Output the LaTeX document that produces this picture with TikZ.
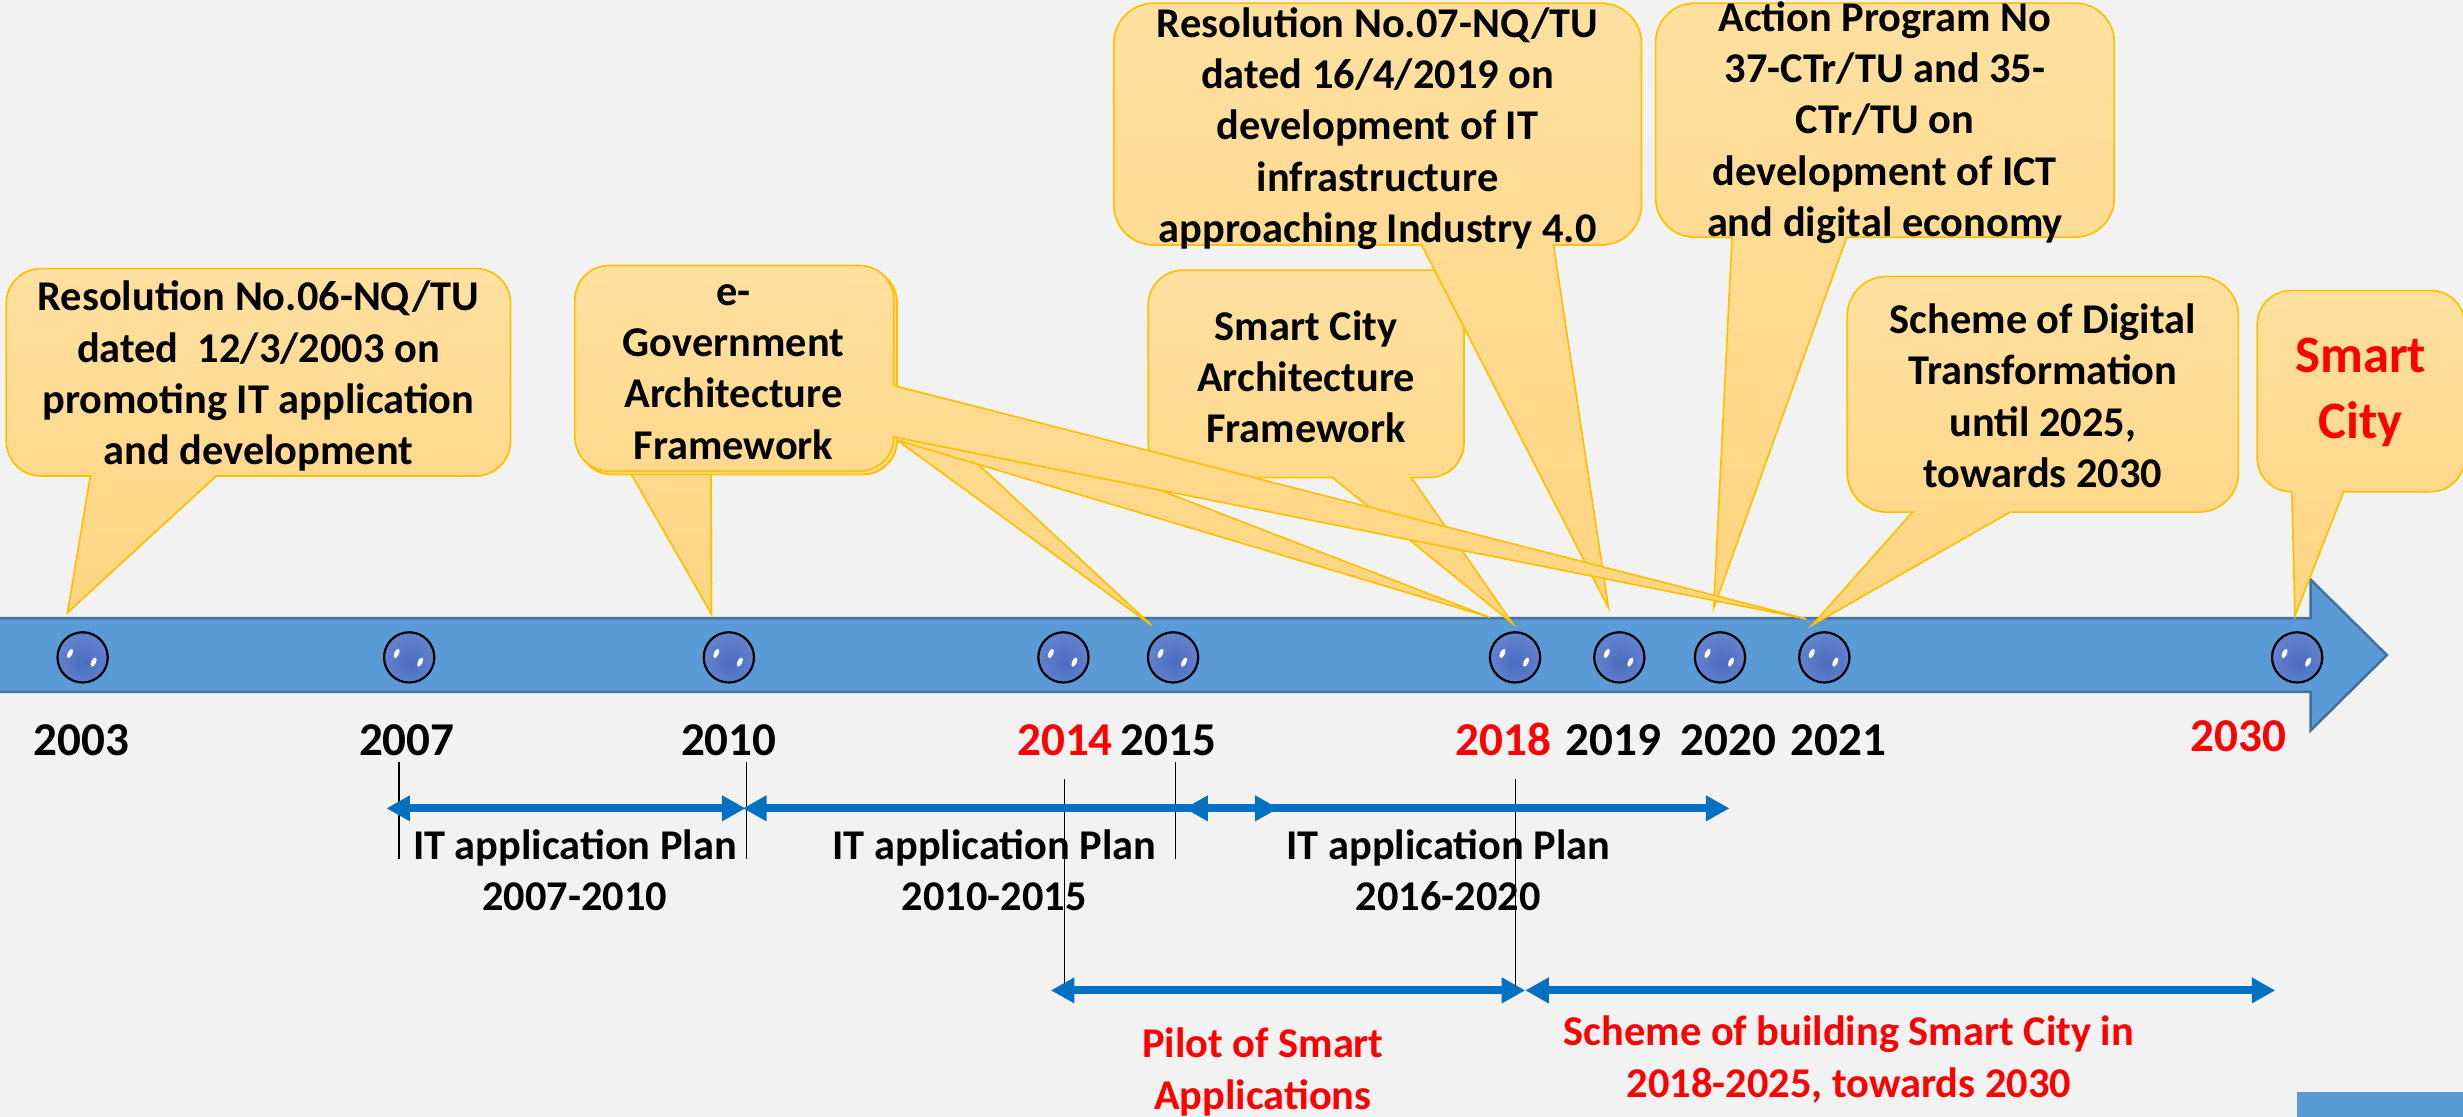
\documentclass[tikz,border=0pt]{standalone}
\usepackage{fontspec}
\setmainfont{Carlito}
\usetikzlibrary{arrows.meta}
\definecolor{bg}{HTML}{F2F2F2}
\definecolor{barblue}{HTML}{5B9BD5}
\definecolor{barline}{HTML}{41719C}
\definecolor{arrblue}{HTML}{0070C0}
\definecolor{cfilltop}{HTML}{FFE0A0}
\definecolor{cfillbot}{HTML}{FFD580}
\definecolor{cline}{HTML}{FFC000}
\definecolor{ballin}{HTML}{4A6BC0}
\definecolor{ballmid}{HTML}{6584CF}
\definecolor{ballout}{HTML}{D5DEF3}
\definecolor{myred}{HTML}{FF0000}
\pgfdeclareradialshading{ballshade}{\pgfpoint{2bp}{-6bp}}{color(0bp)=(ballin); color(28bp)=(ballmid); color(50bp)=(ballout)}
\tikzset{
  callout/.style={draw=cline, line width=0.6pt, top color=cfilltop, bottom color=cfillbot},
  ctext/.style={font=\fontsize{15.36pt}{18.6pt}\selectfont\bfseries, align=center, inner sep=0pt},
  bigtext/.style={font=\fontsize{19.06pt}{23.7pt}\selectfont\bfseries, align=center, inner sep=0pt, text=myred},
  yeartext/.style={font=\fontsize{17.07pt}{20pt}\selectfont\bfseries, inner sep=0pt},
  ball/.style={circle, draw=black, line width=0.8pt, shading=ballshade, minimum size=0.64cm, inner sep=0pt},
  tickline/.style={draw=black, line width=0.4pt},
  plan/.style={draw=arrblue, line width=2.85pt, arrows={Triangle[length=0.3cm,width=0.31cm]-Triangle[length=0.3cm,width=0.31cm]}},
}
\newcommand\calloutB[8]{%
  \pgfmathsetmacro\crad{min(#3-#1,#4-#2)/6}%
  \pgfmathsetmacro\bxa{#1+(#3-#1)*#5}%
  \pgfmathsetmacro\bxb{#1+(#3-#1)*#6}%
  \path[callout] ({#1+\crad},#2) -- ({#3-\crad},#2) arc[start angle=270,end angle=360,radius=\crad]
   -- (#3,{#4-\crad}) arc[start angle=0,end angle=90,radius=\crad]
   -- (\bxb,#4) -- (#7,#8) -- (\bxa,#4)
   -- ({#1+\crad},#4) arc[start angle=90,end angle=180,radius=\crad]
   -- (#1,{#2+\crad}) arc[start angle=180,end angle=270,radius=\crad] -- cycle;
}
\newcommand\calloutR[6]{%
  \pgfmathsetmacro\crad{min(#3-#1,#4-#2)/6}%
  \pgfmathsetmacro\bya{#2+(#4-#2)*7/12}%
  \pgfmathsetmacro\byb{#2+(#4-#2)*5/6}%
  \path[callout] ({#1+\crad},#2) -- ({#3-\crad},#2) arc[start angle=270,end angle=360,radius=\crad]
   -- (#3,\bya) -- (#5,#6) -- (#3,\byb)
   -- (#3,{#4-\crad}) arc[start angle=0,end angle=90,radius=\crad]
   -- ({#1+\crad},#4) arc[start angle=90,end angle=180,radius=\crad]
   -- (#1,{#2+\crad}) arc[start angle=180,end angle=270,radius=\crad] -- cycle;
}
\newcommand\ball[2]{%
  \node[ball] (#1) at (#2,418.5) {};
  \fill[white, rotate around={-25:({#2-8},416)}] ({#2-8},416) ellipse[x radius=1.5, y radius=3.2];
  \fill[white, rotate around={-25:({#2+7},421.5)}] ({#2+7},421.5) ellipse[x radius=1.5, y radius=3.2];
}
\begin{document}
\begin{tikzpicture}[x=0.02cm, y=-0.02cm]
\fill[bg] (0,0) rectangle (1568,711);
\useasboundingbox (0,0) rectangle (1568,711);
% main timeline arrow
\draw[fill=barblue, draw=barline, line width=0.9pt] (-5,393.5) -- (1471,393.5) -- (1471,369) -- (1519.5,417) -- (1471,465) -- (1471,440.5) -- (-5,440.5) -- cycle;
\fill[barblue] (1462,695) rectangle (1575,715);
% callouts
\calloutB{4}{171}{325}{303}{1/6}{5/12}{43}{390}
\calloutB{731}{172}{932}{304}{7/12}{5/6}{963}{397}
\calloutB{709}{2}{1045}{156}{7/12}{5/6}{1024}{387}
\calloutB{1054}{2}{1346}{151}{1/6}{5/12}{1091}{387}
\calloutB{1176}{176}{1425}{326}{1/6}{5/12}{1153.6}{398}
\calloutB{1437}{185}{1569}{313}{1/6}{5/12}{1461}{392}
\calloutB{368}{171}{571}{302}{1/6}{5/12}{453}{391}
\calloutR{368}{171}{571}{302}{733}{398}
\calloutR{368}{171}{571}{302}{948.5}{393}
\calloutR{366}{169}{569}{300}{1150}{394}
% callout texts
\node[ctext] (t2003) at (164.5,239.5) {Resolution No.06-NQ/TU\\dated\ \ 12/3/2003 on\\promoting IT application\\and development};
\node[ctext] (tegov) at (467,236.7) {e-\\Government\\Architecture\\Framework};
\node[ctext] (tsca) at (831.5,239.9) {Smart City\\Architecture\\Framework};
\node[ctext] (tres) at (877,81.8) {Resolution No.07-NQ/TU\\dated 16/4/2019 on\\development of IT\\infrastructure\\approaching Industry 4.0};
\node[ctext] (tact) at (1200,78) {Action Program No\\37-CTr/TU and 35-\\CTr/TU on\\development of ICT\\and digital economy};
\node[ctext] (tsch) at (1300.5,252) {Scheme of Digital\\Transformation\\until 2025,\\towards 2030};
\node[bigtext] (tsmart) at (1503,249.8) {Smart\\City};
% balls
\ball{b2003}{52.6}
\ball{b2007}{260.5}
\ball{b2010}{464}
\ball{b2014}{677}
\ball{b2015}{746.8}
\ball{b2018}{964.5}
\ball{b2019}{1030.9}
\ball{b2020}{1095}
\ball{b2021}{1161.4}
\ball{b2030}{1462.4}
% years
\node[yeartext] (y2003) at (52,471) {2003};
\node[yeartext] (y2007) at (259,471) {2007};
\node[yeartext] (y2010) at (464,471) {2010};
\node[yeartext, text=myred] (y2014) at (678,471) {2014};
\node[yeartext] (y2015) at (744,471) {2015};
\node[yeartext, text=myred] (y2018) at (957,471) {2018};
\node[yeartext] (y2019) at (1027,471) {2019};
\node[yeartext] (y2020) at (1100.5,471) {2020};
\node[yeartext] (y2021) at (1170.5,471) {2021};
\node[yeartext, text=myred] (y2030) at (1425,468.5) {2030};
% tick lines
\coordinate (k2007a) at (254,485); \coordinate (k2007b) at (254,547);
\coordinate (k2010a) at (475,485); \coordinate (k2010b) at (475,547);
\coordinate (k2015a) at (748.6,485); \coordinate (k2015b) at (748.6,547);
\coordinate (k2014a) at (677.4,496); \coordinate (k2014b) at (677.4,632);
\coordinate (k2018a) at (964.6,496); \coordinate (k2018b) at (964.6,632);
\draw[tickline] (k2007a) -- (k2007b);
\draw[tickline] (k2010a) -- (k2010b);
\draw[tickline] (k2015a) -- (k2015b);
\draw[tickline] (k2014a) -- (k2014b);
\draw[tickline] (k2018a) -- (k2018b);
% period arrows
\coordinate (a1) at (246,514.6); \coordinate (a2) at (474.6,514.6);
\coordinate (c1) at (754,514.6); \coordinate (c2) at (1101,514.6);
\coordinate (bb1) at (473,514.6); \coordinate (bb2) at (814,514.6);
\coordinate (d1) at (669,630.5); \coordinate (d2) at (971,630.5);
\coordinate (e1) at (971,630.5); \coordinate (e2) at (1448.5,630.5);
\draw[plan] (a1) -- (a2);
\draw[plan] (bb1) -- (bb2);
\draw[plan] (c1) -- (c2);
\draw[plan] (d1) -- (d2);
\draw[plan] (e1) -- (e2);
% period labels
\node[ctext] (l1) at (366,554) {IT application Plan\\2007-2010};
\node[ctext] (l2) at (633,554) {IT application Plan\\2010-2015};
\node[ctext] (l3) at (922,554) {IT application Plan\\2016-2020};
\node[ctext, text=myred] (l4) at (804,682.5) {Pilot of Smart\\Applications};
\node[ctext, text=myred] (l5) at (1177,674.5) {Scheme of building Smart City in\\2018-2025, towards 2030};
\end{tikzpicture}
\end{document}
